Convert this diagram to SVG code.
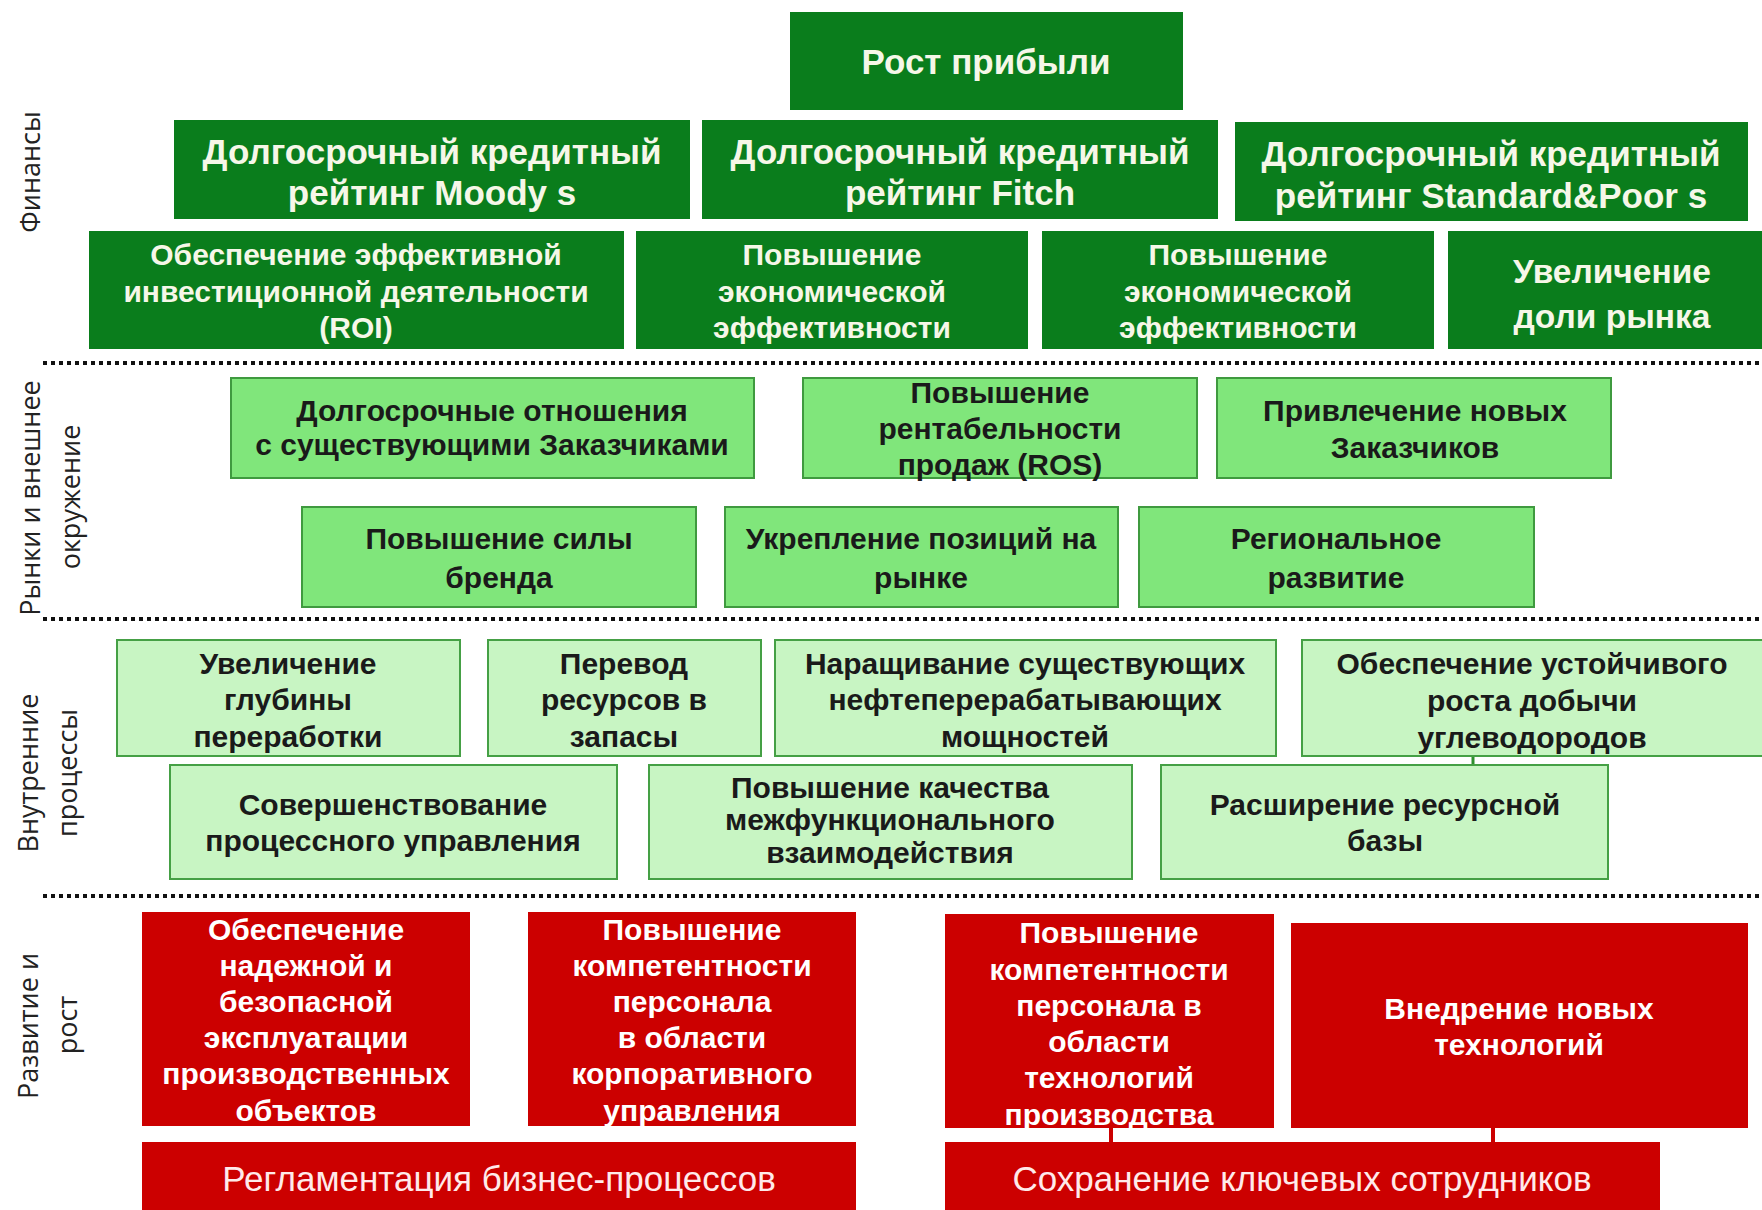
<svg xmlns="http://www.w3.org/2000/svg" width="1762" height="1210" viewBox="0 0 1762 1210">
<style>
.dg{fill:#0a7d1c}
.mg{fill:#80e67b;stroke:#3f9a3f;stroke-width:2}
.lg{fill:#c8f5c3;stroke:#45a045;stroke-width:2}
.rd{fill:#cc0000}
text{font-family:"Liberation Sans",Arial,sans-serif;text-anchor:middle}
.tw{fill:#f6f7e8;font-weight:bold;font-size:30px}
.tw35{fill:#f6f7e8;font-weight:bold;font-size:35px}
.tw33{fill:#f6f7e8;font-weight:bold;font-size:33.5px}
.tb{fill:#1a1a1a;font-weight:bold;font-size:30px}
.tr{fill:#ffffff;font-weight:bold;font-size:30px}
.trn{fill:#ffeaea;font-size:35px}
.lab{font-family:"Open Sans","DejaVu Sans",sans-serif;font-size:27px;fill:#222}
.dots{stroke:#111;stroke-width:4;stroke-dasharray:4 4}
</style>

<g id="section-labels">
<text class="lab" transform="translate(40,172) rotate(-90)">Финансы</text>
<text class="lab" transform="translate(40,498) rotate(-90)">Рынки и внешнее</text>
<text class="lab" transform="translate(80,497) rotate(-90)">окружение</text>
<text class="lab" transform="translate(38,773) rotate(-90)">Внутренние</text>
<text class="lab" transform="translate(77,773) rotate(-90)">процессы</text>
<text class="lab" transform="translate(38,1026) rotate(-90)">Развитие и</text>
<text class="lab" transform="translate(77,1025) rotate(-90)">рост</text>
</g>

<g id="separators">
<line class="dots" x1="43" y1="363" x2="1762" y2="363"/>
<line class="dots" x1="43" y1="619" x2="1762" y2="619"/>
<line class="dots" x1="43" y1="896" x2="1762" y2="896"/>
</g>

<g id="connectors">
<line x1="1473" y1="756" x2="1473" y2="765" stroke="#2f8f2f" stroke-width="3"/>
<line x1="1111" y1="1128" x2="1111" y2="1142" stroke="#cc0000" stroke-width="4"/>
<line x1="1493" y1="1128" x2="1493" y2="1142" stroke="#cc0000" stroke-width="4"/>
</g>

<g id="n-rost-pribyli"><rect class="dg" x="790" y="12" width="393" height="98"/>
<text class="tw35" x="986" y="74">Рост прибыли</text></g>

<g id="n-moodys"><rect class="dg" x="174" y="120" width="516" height="99"/>
<text class="tw35" x="432" y="164">Долгосрочный кредитный</text>
<text class="tw35" x="432" y="205">рейтинг Moody s</text></g>

<g id="n-fitch"><rect class="dg" x="702" y="120" width="516" height="99"/>
<text class="tw35" x="960" y="164">Долгосрочный кредитный</text>
<text class="tw35" x="960" y="205">рейтинг Fitch</text></g>

<g id="n-sp"><rect class="dg" x="1235" y="122" width="513" height="99"/>
<text class="tw35" x="1491" y="166">Долгосрочный кредитный</text>
<text class="tw35" x="1491" y="208">рейтинг Standard&amp;Poor s</text></g>

<g id="n-roi"><rect class="dg" x="89" y="231" width="535" height="118"/>
<text class="tw" x="356" y="265">Обеспечение эффективной</text>
<text class="tw" x="356" y="302">инвестиционной деятельности</text>
<text class="tw" x="356" y="338">(ROI)</text></g>

<g id="n-econ1"><rect class="dg" x="636" y="231" width="392" height="118"/>
<text class="tw" x="832" y="265">Повышение</text>
<text class="tw" x="832" y="302">экономической</text>
<text class="tw" x="832" y="338">эффективности</text></g>

<g id="n-econ2"><rect class="dg" x="1042" y="231" width="392" height="118"/>
<text class="tw" x="1238" y="265">Повышение</text>
<text class="tw" x="1238" y="302">экономической</text>
<text class="tw" x="1238" y="338">эффективности</text></g>

<g id="n-market-share"><rect class="dg" x="1448" y="231" width="320" height="118"/>
<text class="tw33" x="1612" y="283">Увеличение</text>
<text class="tw33" x="1612" y="328">доли рынка</text></g>

<g id="n-long-rel"><rect class="mg" x="231" y="378" width="523" height="100"/>
<text class="tb" x="492" y="421">Долгосрочные отношения</text>
<text class="tb" x="492" y="455">с существующими Заказчиками</text></g>

<g id="n-ros"><rect class="mg" x="803" y="378" width="394" height="100"/>
<text class="tb" x="1000" y="403">Повышение</text>
<text class="tb" x="1000" y="439">рентабельности</text>
<text class="tb" x="1000" y="475">продаж (ROS)</text></g>

<g id="n-new-clients"><rect class="mg" x="1217" y="378" width="394" height="100"/>
<text class="tb" x="1415" y="421">Привлечение новых</text>
<text class="tb" x="1415" y="458">Заказчиков</text></g>

<g id="n-brand"><rect class="mg" x="302" y="507" width="394" height="100"/>
<text class="tb" x="499" y="549">Повышение силы</text>
<text class="tb" x="499" y="588">бренда</text></g>

<g id="n-position"><rect class="mg" x="725" y="507" width="393" height="100"/>
<text class="tb" x="921" y="549">Укрепление позиций на</text>
<text class="tb" x="921" y="588">рынке</text></g>

<g id="n-regional"><rect class="mg" x="1139" y="507" width="395" height="100"/>
<text class="tb" x="1336" y="549">Региональное</text>
<text class="tb" x="1336" y="588">развитие</text></g>

<g id="n-depth"><rect class="lg" x="117" y="640" width="343" height="116"/>
<text class="tb" x="288" y="674">Увеличение</text>
<text class="tb" x="288" y="710">глубины</text>
<text class="tb" x="288" y="747">переработки</text></g>

<g id="n-resources"><rect class="lg" x="488" y="640" width="273" height="116"/>
<text class="tb" x="624" y="674">Перевод</text>
<text class="tb" x="624" y="710">ресурсов в</text>
<text class="tb" x="624" y="747">запасы</text></g>

<g id="n-refining"><rect class="lg" x="775" y="640" width="501" height="116"/>
<text class="tb" x="1025" y="674">Наращивание существующих</text>
<text class="tb" x="1025" y="710">нефтеперерабатывающих</text>
<text class="tb" x="1025" y="747">мощностей</text></g>

<g id="n-production"><rect class="lg" x="1302" y="640" width="470" height="116"/>
<text class="tb" x="1532" y="674">Обеспечение устойчивого</text>
<text class="tb" x="1532" y="711">роста добычи</text>
<text class="tb" x="1532" y="748">углеводородов</text></g>

<g id="n-process-mgmt"><rect class="lg" x="170" y="765" width="447" height="114"/>
<text class="tb" x="393" y="815">Совершенствование</text>
<text class="tb" x="393" y="851">процессного управления</text></g>

<g id="n-crossfunc"><rect class="lg" x="649" y="765" width="483" height="114"/>
<text class="tb" x="890" y="798">Повышение качества</text>
<text class="tb" x="890" y="830">межфункционального</text>
<text class="tb" x="890" y="863">взаимодействия</text></g>

<g id="n-resource-base"><rect class="lg" x="1161" y="765" width="447" height="114"/>
<text class="tb" x="1385" y="815">Расширение ресурсной</text>
<text class="tb" x="1385" y="851">базы</text></g>

<g id="n-safety"><rect class="rd" x="142" y="912" width="328" height="214"/>
<text class="tr" x="306" y="940">Обеспечение</text>
<text class="tr" x="306" y="976">надежной и</text>
<text class="tr" x="306" y="1012">безопасной</text>
<text class="tr" x="306" y="1048">эксплуатации</text>
<text class="tr" x="306" y="1084">производственных</text>
<text class="tr" x="306" y="1121">объектов</text></g>

<g id="n-corp-comp"><rect class="rd" x="528" y="912" width="328" height="214"/>
<text class="tr" x="692" y="940">Повышение</text>
<text class="tr" x="692" y="976">компетентности</text>
<text class="tr" x="692" y="1012">персонала</text>
<text class="tr" x="692" y="1048">в области</text>
<text class="tr" x="692" y="1084">корпоративного</text>
<text class="tr" x="692" y="1121">управления</text></g>

<g id="n-tech-comp"><rect class="rd" x="945" y="914" width="329" height="214"/>
<text class="tr" x="1109" y="943">Повышение</text>
<text class="tr" x="1109" y="980">компетентности</text>
<text class="tr" x="1109" y="1016">персонала в</text>
<text class="tr" x="1109" y="1052">области</text>
<text class="tr" x="1109" y="1088">технологий</text>
<text class="tr" x="1109" y="1125">производства</text></g>

<g id="n-new-tech"><rect class="rd" x="1291" y="923" width="457" height="205"/>
<text class="tr" x="1519" y="1019">Внедрение новых</text>
<text class="tr" x="1519" y="1055">технологий</text></g>

<g id="n-reglament"><rect class="rd" x="142" y="1142" width="714" height="68"/>
<text class="trn" x="499" y="1191">Регламентация бизнес-процессов</text></g>

<g id="n-key-staff"><rect class="rd" x="945" y="1142" width="715" height="68"/>
<text class="trn" x="1302" y="1191">Сохранение ключевых сотрудников</text></g>
</svg>
